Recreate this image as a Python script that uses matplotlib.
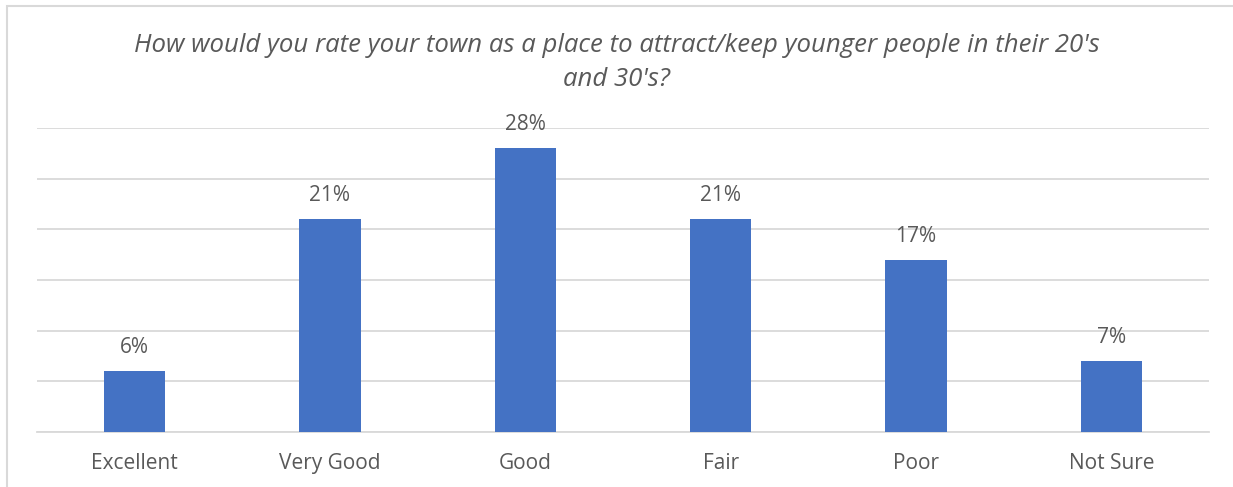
import matplotlib
matplotlib.use("Agg")
import matplotlib.pyplot as plt
from matplotlib.patches import Rectangle

categories = ["Excellent", "Very Good", "Good", "Fair", "Poor", "Not Sure"]
values = [6, 21, 28, 21, 17, 7]
labels = ["6%", "21%", "28%", "21%", "17%", "7%"]

BAR = "#4472C4"; TXT = "#595959"; GRID = "#D9D9D9"
plt.rcParams.update({"font.family": "Open Sans"})

fig = plt.figure(figsize=(12.33, 4.87), dpi=100)
# chart border (cropped at right/bottom in the original)
fig.add_artist(Rectangle((7/1233, -0.1), 1.2, 1 - 6/487 + 0.1, transform=fig.transFigure,
                         fill=False, ec=GRID, lw=1.5))

ax = fig.add_axes([37/1233, 1 - 432/487, (1209 - 37)/1233, (432 - 128)/487])
x = range(len(categories))
ax.bar(x, values, width=0.315, color=BAR, zorder=3)
ax.set_xlim(-0.5, len(categories) - 0.5)
ax.set_ylim(0, 30)
ax.set_yticks(range(0, 31, 5))
ax.yaxis.grid(True, color=GRID, lw=1.3)
ax.set_axisbelow(True)
ax.tick_params(axis="y", left=False, labelleft=False)
ax.tick_params(axis="x", length=0, pad=15, labelsize=15, labelcolor=TXT)
ax.set_xticks(list(x))
ax.set_xticklabels(categories)
for s in ["top", "right", "left"]:
    ax.spines[s].set_visible(False)
ax.spines["bottom"].set_color(GRID)
ax.spines["bottom"].set_linewidth(1.3)

for i, (v, t) in enumerate(zip(values, labels)):
    ax.annotate(t, (i, v), xytext=(0, 9.5), textcoords="offset points",
                ha="center", va="bottom", fontsize=15, color=TXT)

fig.text(0.5, 1 - 45/487, "How would you rate your town as a place to attract/keep younger people in their 20's",
         ha="center", va="center", fontsize=18.5, style="italic", color=TXT)
fig.text(0.5, 1 - 80/487, "and 30's?", ha="center", va="center", fontsize=18.5,
         style="italic", color=TXT)

fig.savefig("out.png")
